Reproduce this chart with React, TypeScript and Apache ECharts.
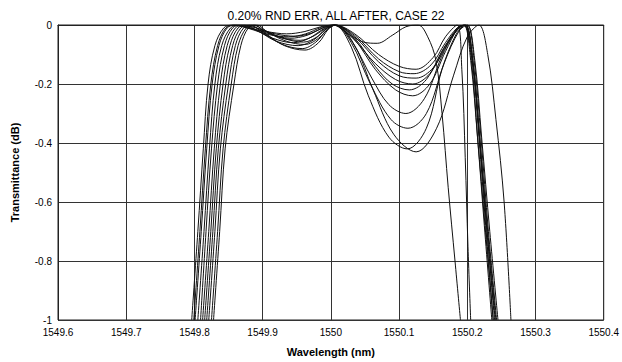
import React, { useEffect, useRef } from "react";
import * as echarts from "echarts";

const titleText = "0.20% RND ERR, ALL AFTER, CASE 22";
const xName = "Wavelength (nm)";
const yName = "Transmittance (dB)";

const c1 = [[1549.796,-1],[1549.805,-0.7],[1549.813,-0.42],[1549.82,-0.2],[1549.83,-0.07],[1549.843,-0.01],[1549.856,0],[1549.878,-0.01],[1549.905,-0.022],[1549.935,-0.03],[1549.962,-0.022],[1549.985,-0.006],[1550.005,0],[1550.035,-0.03],[1550.07,-0.1],[1550.1,-0.14],[1550.125,-0.15],[1550.15,-0.11],[1550.168,-0.04],[1550.185,0],[1550.192,-0.15],[1550.197,-0.45],[1550.201,-0.75],[1550.205,-1]];
const c2 = [[1549.801,-1],[1549.81,-0.7],[1549.818,-0.42],[1549.826,-0.2],[1549.836,-0.07],[1549.848,-0.01],[1549.861,0],[1549.882,-0.01],[1549.91,-0.03],[1549.94,-0.045],[1549.965,-0.035],[1549.988,-0.01],[1550.005,0],[1550.035,-0.035],[1550.07,-0.115],[1550.1,-0.158],[1550.122,-0.165],[1550.147,-0.135],[1550.168,-0.06],[1550.185,-0.01],[1550.195,0],[1550.207,-0.12],[1550.217,-0.38],[1550.227,-0.68],[1550.238,-1]];
const c3 = [[1549.805,-1],[1549.814,-0.7],[1549.822,-0.42],[1549.83,-0.2],[1549.84,-0.07],[1549.853,-0.01],[1549.866,0],[1549.888,-0.015],[1549.915,-0.045],[1549.945,-0.06],[1549.968,-0.045],[1549.99,-0.012],[1550.005,0],[1550.035,-0.04],[1550.07,-0.125],[1550.1,-0.172],[1550.125,-0.18],[1550.15,-0.145],[1550.172,-0.06],[1550.188,-0.01],[1550.197,0],[1550.208,-0.12],[1550.218,-0.38],[1550.229,-0.7],[1550.24,-1]];
const c4 = [[1549.809,-1],[1549.817,-0.7],[1549.825,-0.42],[1549.834,-0.2],[1549.844,-0.07],[1549.856,-0.01],[1549.869,0],[1549.89,-0.01],[1549.918,-0.03],[1549.948,-0.038],[1549.972,-0.027],[1549.99,-0.008],[1550.003,0],[1550.03,-0.04],[1550.065,-0.13],[1550.095,-0.185],[1550.12,-0.2],[1550.145,-0.165],[1550.168,-0.07],[1550.186,-0.01],[1550.196,0],[1550.206,-0.12],[1550.215,-0.38],[1550.225,-0.68],[1550.236,-1]];
const c5 = [[1549.812,-1],[1549.821,-0.7],[1549.829,-0.42],[1549.838,-0.2],[1549.848,-0.07],[1549.86,-0.01],[1549.873,0],[1549.893,-0.02],[1549.92,-0.055],[1549.952,-0.07],[1549.975,-0.05],[1549.992,-0.015],[1550.006,0],[1550.035,-0.045],[1550.065,-0.14],[1550.09,-0.2],[1550.115,-0.22],[1550.14,-0.185],[1550.165,-0.08],[1550.188,-0.01],[1550.2,0],[1550.21,-0.12],[1550.22,-0.38],[1550.231,-0.7],[1550.243,-1]];
const c6 = [[1549.815,-1],[1549.824,-0.7],[1549.832,-0.42],[1549.842,-0.2],[1549.852,-0.07],[1549.864,-0.01],[1549.877,0],[1549.897,-0.015],[1549.925,-0.042],[1549.955,-0.052],[1549.976,-0.036],[1549.993,-0.01],[1550.006,0],[1550.035,-0.05],[1550.065,-0.15],[1550.095,-0.22],[1550.12,-0.24],[1550.145,-0.2],[1550.168,-0.09],[1550.187,-0.01],[1550.198,0],[1550.208,-0.12],[1550.218,-0.38],[1550.229,-0.7],[1550.241,-1]];
const c7 = [[1549.818,-1],[1549.827,-0.7],[1549.835,-0.42],[1549.846,-0.2],[1549.856,-0.07],[1549.868,-0.01],[1549.881,0],[1549.9,-0.025],[1549.928,-0.065],[1549.958,-0.08],[1549.978,-0.058],[1549.995,-0.015],[1550.007,0],[1550.032,-0.06],[1550.06,-0.18],[1550.085,-0.27],[1550.11,-0.3],[1550.137,-0.25],[1550.162,-0.11],[1550.183,-0.02],[1550.195,0],[1550.205,-0.12],[1550.215,-0.38],[1550.226,-0.68],[1550.238,-1]];
const c8 = [[1549.821,-1],[1549.83,-0.7],[1549.838,-0.42],[1549.85,-0.2],[1549.86,-0.07],[1549.872,-0.01],[1549.885,0],[1549.903,-0.018],[1549.93,-0.045],[1549.96,-0.058],[1549.98,-0.04],[1549.995,-0.01],[1550.006,0],[1550.03,-0.06],[1550.058,-0.2],[1550.088,-0.32],[1550.113,-0.35],[1550.14,-0.3],[1550.166,-0.13],[1550.188,-0.02],[1550.2,0],[1550.211,-0.12],[1550.221,-0.38],[1550.233,-0.7],[1550.245,-1]];
const c9 = [[1549.825,-1],[1549.834,-0.7],[1549.842,-0.42],[1549.854,-0.2],[1549.864,-0.07],[1549.876,-0.01],[1549.888,0],[1549.905,-0.03],[1549.932,-0.07],[1549.962,-0.085],[1549.982,-0.06],[1549.996,-0.015],[1550.006,0],[1550.03,-0.075],[1550.055,-0.24],[1550.085,-0.38],[1550.112,-0.42],[1550.14,-0.35],[1550.163,-0.15],[1550.184,-0.03],[1550.197,0],[1550.208,-0.12],[1550.218,-0.38],[1550.23,-0.7],[1550.242,-1]];
const c10 = [[1549.828,-1],[1549.837,-0.7],[1549.845,-0.42],[1549.858,-0.2],[1549.868,-0.07],[1549.879,-0.01],[1549.891,0],[1549.908,-0.025],[1549.935,-0.055],[1549.962,-0.066],[1549.982,-0.045],[1549.997,-0.01],[1550.008,0],[1550.035,-0.07],[1550.062,-0.22],[1550.092,-0.37],[1550.125,-0.43],[1550.155,-0.35],[1550.18,-0.17],[1550.2,-0.04],[1550.217,0],[1550.23,-0.1],[1550.242,-0.32],[1550.254,-0.6],[1550.264,-1]];
const c11 = [[1549.799,-1],[1549.808,-0.7],[1549.816,-0.42],[1549.824,-0.2],[1549.834,-0.07],[1549.846,-0.01],[1549.859,0],[1549.88,-0.012],[1549.908,-0.032],[1549.938,-0.04],[1549.963,-0.03],[1549.986,-0.008],[1550.003,0],[1550.025,-0.03],[1550.048,-0.058],[1550.068,-0.062],[1550.09,-0.035],[1550.11,-0.006],[1550.128,0],[1550.142,-0.04],[1550.154,-0.12],[1550.163,-0.3],[1550.172,-0.55],[1550.182,-0.8],[1550.19,-1]];

const curves = [c1, c2, c3, c4, c5, c6, c7, c8, c9, c10, c11];

const FONT = "'Liberation Sans', Arial, sans-serif";

export default function App() {
  const ref = useRef<HTMLDivElement>(null);
  useEffect(() => {
    if (!ref.current) return;
    const chart = echarts.init(ref.current, null, { renderer: "svg" });
    chart.setOption({
      animation: false,
      backgroundColor: "#fff",
      title: {
        text: titleText,
        left: 331,
        textAlign: "center",
        top: 5,
        textStyle: { fontFamily: FONT, fontSize: 12, fontWeight: "normal", color: "#000" },
      },
      grid: {
        left: 58,
        right: 17,
        top: 25,
        bottom: 42,
        show: true,
        borderColor: "#222",
        borderWidth: 1,
      },
      xAxis: {
        type: "value",
        min: 1549.6,
        max: 1550.4,
        interval: 0.1,
        name: xName,
        nameLocation: "middle",
        nameGap: 26,
        nameTextStyle: { fontFamily: FONT, fontSize: 11, fontWeight: "bold", color: "#000" },
        axisLine: { show: true, lineStyle: { color: "#222", width: 1 } },
        axisTick: { show: false },
        axisLabel: {
          fontFamily: FONT,
          fontSize: 10,
          color: "#000",
          margin: 7,
          formatter: (v: number) => String(Math.round(v * 10) / 10),
        },
        splitLine: { show: true, lineStyle: { color: "#333", width: 1 } },
      },
      yAxis: {
        type: "value",
        min: -1,
        max: 0,
        interval: 0.2,
        name: yName,
        nameLocation: "middle",
        nameGap: 38,
        nameTextStyle: { fontFamily: FONT, fontSize: 11, fontWeight: "bold", color: "#000" },
        axisLine: { show: true, lineStyle: { color: "#222", width: 1 } },
        axisTick: { show: false },
        axisLabel: {
          fontFamily: FONT,
          fontSize: 10,
          color: "#000",
          margin: 6,
          formatter: (v: number) => String(Math.round(v * 10) / 10),
        },
        splitLine: { show: true, lineStyle: { color: "#333", width: 1 } },
      },
      series: curves.map((c) => ({
        type: "line",
        data: c,
        showSymbol: false,
        symbol: "none",
        smooth: 0.35,
        clip: true,
        lineStyle: { color: "#111", width: 1 },
      })),
    });
    return () => chart.dispose();
  }, []);
  return (
    <div
      ref={ref}
      style={{ position: "fixed", left: 0, top: 0, width: 622, height: 362, background: "#fff" }}
    />
  );
}
